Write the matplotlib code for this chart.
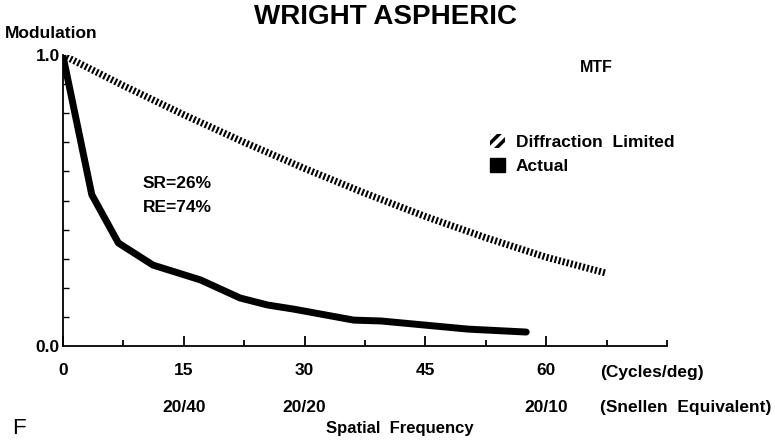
import matplotlib
matplotlib.use('Agg')
import matplotlib.pyplot as plt
from matplotlib.patches import Patch
from matplotlib.ticker import MultipleLocator

plt.rcParams['font.family'] = ['Liberation Sans', 'DejaVu Sans']
plt.rcParams['hatch.linewidth'] = 2.5

# data
freq_diff = [0, 7.5, 15, 22.5, 30, 37.5, 45, 52.5, 60, 67.5]
mtf_diff = [1.0, 0.895, 0.795, 0.70, 0.61, 0.525, 0.445, 0.372, 0.305, 0.25]

freq_actual = [0, 3.6, 6.9, 11.2, 17.1, 22.0, 25.4, 28.6, 36.1, 39.5, 50.3, 57.5]
mtf_actual = [1.0, 0.52, 0.354, 0.278, 0.227, 0.165, 0.141, 0.127, 0.089, 0.086, 0.058, 0.048]

cycle_ticks = [0, 15, 30, 45, 60]
snellen_pos = [15, 30, 60]
snellen_labels = ['20/40', '20/20', '20/10']

fig = plt.figure(figsize=(7.75, 4.4), dpi=100)
ax = fig.add_axes([0.081, 0.2136, 0.78, 0.6614])
ax.set_xlim(0, 75)
ax.set_ylim(0, 1.0)

ax.plot(freq_diff, mtf_diff, color='black', lw=5, linestyle=(0, (0.3, 0.3)),
        solid_capstyle='butt', dash_capstyle='butt')
ax.plot(freq_actual, mtf_actual, color='black', lw=5, solid_joinstyle='round',
        solid_capstyle='round')

for s in ['top', 'right']:
    ax.spines[s].set_visible(False)
ax.spines['left'].set_linewidth(1.3)
ax.spines['bottom'].set_linewidth(1.3)

ax.set_xticks(cycle_ticks)
ax.set_xticklabels([str(t) for t in cycle_ticks], fontsize=12.5, fontweight='bold')
ax.xaxis.set_minor_locator(MultipleLocator(7.5))
ax.set_yticks([0.0, 1.0])
ax.set_yticklabels(['0.0', '1.0'], fontsize=12.5, fontweight='bold')
ax.yaxis.set_minor_locator(MultipleLocator(0.1))
ax.tick_params(axis='x', which='major', direction='in', length=7, width=1.3, pad=12)
ax.tick_params(axis='x', which='minor', direction='in', length=4, width=1.3)
ax.tick_params(axis='y', which='major', direction='in', length=0, pad=2)
ax.tick_params(axis='y', which='minor', direction='in', length=4, width=1.0)

# snellen row
for p, lab in zip(snellen_pos, snellen_labels):
    ax.text(p, -0.21, lab, ha='center', va='center', fontsize=12.5, fontweight='bold',
            transform=ax.transData)

fig.text(600 / 775, 1 - 372 / 440, '(Cycles/deg)', ha='left', va='center',
         fontsize=12.5, fontweight='bold')
fig.text(600 / 775, 1 - 407 / 440, '(Snellen  Equivalent)', ha='left', va='center',
         fontsize=12.5, fontweight='bold')

fig.text(386 / 775, 1 - 17 / 440, 'WRIGHT ASPHERIC', ha='center', va='center',
         fontsize=20, fontweight='heavy')
fig.text(5 / 775, 1 - 33 / 440, 'Modulation', ha='left', va='center',
         fontsize=12.5, fontweight='bold')
fig.text(580 / 775, 1 - 68 / 440, 'MTF', ha='left', va='center',
         fontsize=11.5, fontweight='bold')
fig.text(143 / 775, 1 - 183 / 440, 'SR=26%', ha='left', va='center',
         fontsize=12.5, fontweight='bold')
fig.text(143 / 775, 1 - 208 / 440, 'RE=74%', ha='left', va='center',
         fontsize=12.5, fontweight='bold')
fig.text(12 / 775, 1 - 428 / 440, 'F', ha='left', va='center', fontsize=16)
fig.text(400 / 775, 1 - 428 / 440, 'Spatial  Frequency', ha='center', va='center',
         fontsize=12, fontweight='bold')

handles = [Patch(facecolor='white', edgecolor='black', linewidth=0, hatch='///',
                 label='Diffraction  Limited'),
           Patch(facecolor='black', edgecolor='black', label='Actual')]
fig.legend(handles=handles, loc='upper left', bbox_to_anchor=(474 / 775, 1 - 118 / 440),
           frameon=False, handlelength=0.9, handleheight=0.9, handletextpad=0.6,
           labelspacing=0.45, prop={'weight': 'bold', 'size': 12.5})

fig.savefig('out.png', dpi=100, facecolor='white')
